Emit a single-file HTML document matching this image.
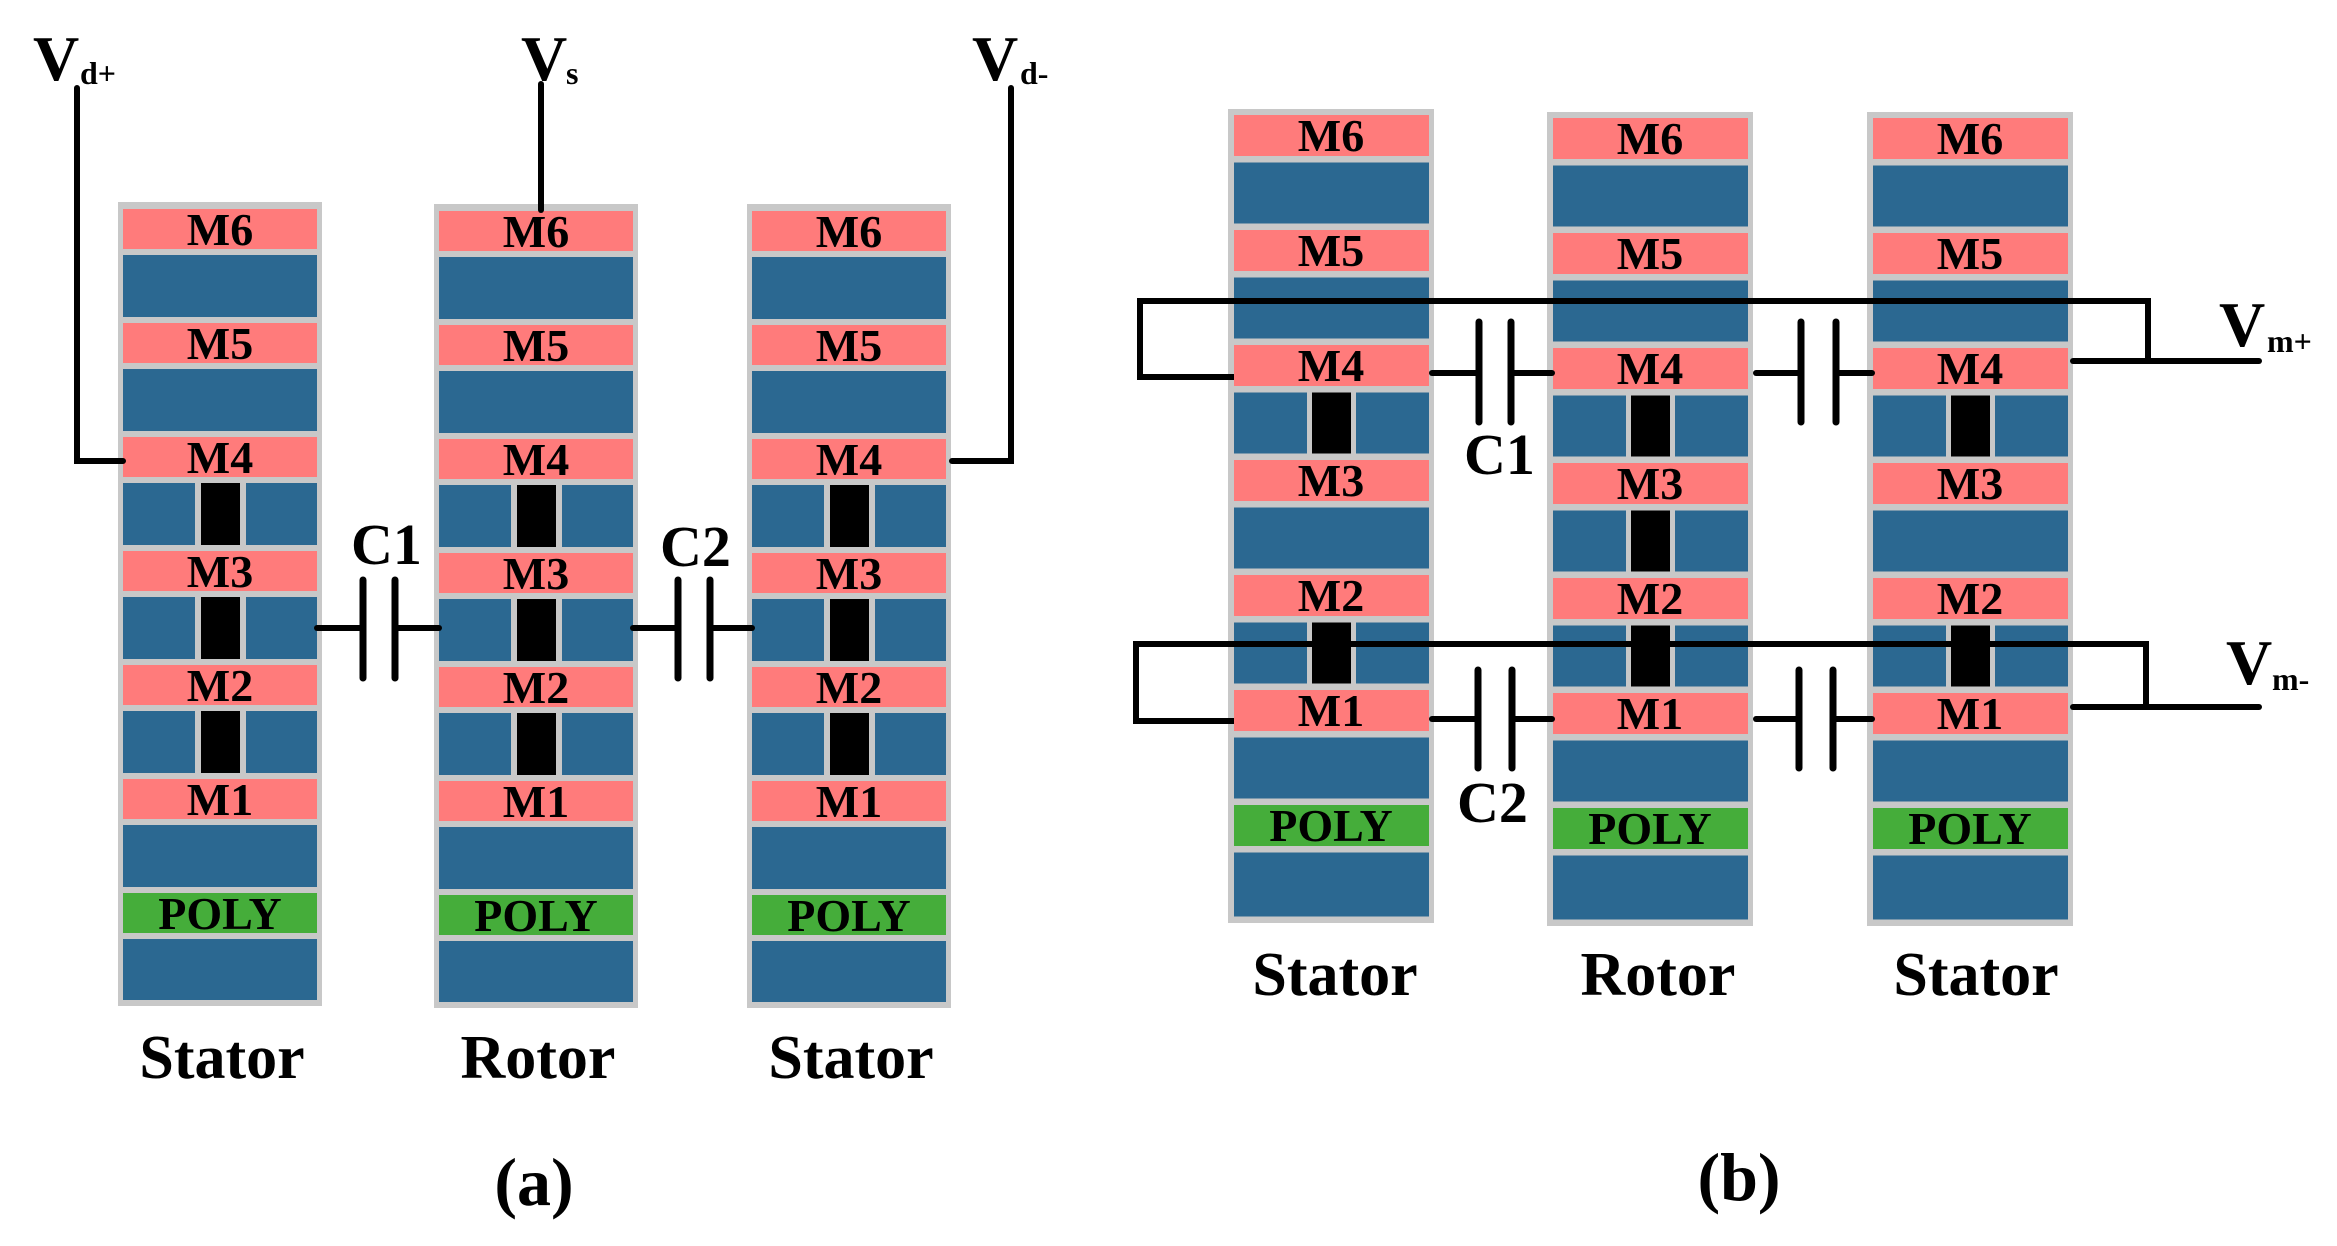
<!DOCTYPE html>
<html><head><meta charset="utf-8"><style>
html,body{margin:0;padding:0;background:#fff}
svg{display:block}
text{font-family:"Liberation Serif",serif;font-weight:bold;fill:#000}
.m{font-size:46px;text-anchor:middle}
.lb{font-size:62px;text-anchor:middle}
.w{stroke:#000;stroke-width:6;fill:none;stroke-linecap:round}
.p{stroke:#000;stroke-width:7;stroke-linecap:round}
</style></head><body>
<svg width="2337" height="1246" viewBox="0 0 2337 1246" xmlns="http://www.w3.org/2000/svg">
<defs>
<g id="viaA"><rect x="77" y="0" width="51" height="62" fill="#c8c8c8"/><rect x="83" y="0" width="39" height="62" fill="#000"/></g>
<g id="colA">
<rect x="0" y="0" width="204" height="804" fill="#c8c8c8"/>
<rect x="5" y="7" width="194" height="40" fill="#ff7b7b"/>
<rect x="5" y="53" width="194" height="62" fill="#2b6891"/>
<rect x="5" y="121" width="194" height="40" fill="#ff7b7b"/>
<rect x="5" y="167" width="194" height="62" fill="#2b6891"/>
<rect x="5" y="235" width="194" height="40" fill="#ff7b7b"/>
<rect x="5" y="281" width="194" height="62" fill="#2b6891"/>
<rect x="5" y="349" width="194" height="40" fill="#ff7b7b"/>
<rect x="5" y="395" width="194" height="62" fill="#2b6891"/>
<rect x="5" y="463" width="194" height="40" fill="#ff7b7b"/>
<rect x="5" y="509" width="194" height="62" fill="#2b6891"/>
<rect x="5" y="577" width="194" height="40" fill="#ff7b7b"/>
<rect x="5" y="623" width="194" height="62" fill="#2b6891"/>
<rect x="5" y="691" width="194" height="40" fill="#45ad3a"/>
<rect x="5" y="737" width="194" height="61" fill="#2b6891"/>
<use href="#viaA" y="281"/>
<use href="#viaA" y="395"/>
<use href="#viaA" y="509"/>
</g>
<g id="colB">
<rect x="0" y="0" width="206" height="814" fill="#c8c8c8"/>
<rect x="6" y="6" width="195" height="41" fill="#ff7b7b"/>
<rect x="6" y="53.5" width="195" height="61" fill="#2b6891"/>
<rect x="6" y="121" width="195" height="41" fill="#ff7b7b"/>
<rect x="6" y="168.5" width="195" height="61" fill="#2b6891"/>
<rect x="6" y="236" width="195" height="41" fill="#ff7b7b"/>
<rect x="6" y="283.5" width="195" height="61" fill="#2b6891"/>
<rect x="6" y="351" width="195" height="41" fill="#ff7b7b"/>
<rect x="6" y="398.5" width="195" height="61" fill="#2b6891"/>
<rect x="6" y="466" width="195" height="41" fill="#ff7b7b"/>
<rect x="6" y="513.5" width="195" height="61" fill="#2b6891"/>
<rect x="6" y="581" width="195" height="41" fill="#ff7b7b"/>
<rect x="6" y="628.5" width="195" height="61" fill="#2b6891"/>
<rect x="6" y="696" width="195" height="41" fill="#45ad3a"/>
<rect x="6" y="743.5" width="195" height="64" fill="#2b6891"/>
</g>
<g id="viaB"><rect x="79" y="0" width="49" height="61" fill="#c8c8c8"/><rect x="84" y="0" width="39" height="61" fill="#000"/></g>
</defs>

<!-- Panel (a) -->
<use href="#colA" x="118" y="202"/>
<use href="#colA" x="434" y="204"/>
<use href="#colA" x="747" y="204"/>
<g class="m">
<text x="220" y="245">M6</text><text x="220" y="359">M5</text><text x="220" y="473">M4</text><text x="220" y="587">M3</text><text x="220" y="701">M2</text><text x="220" y="815">M1</text><text x="220" y="929">POLY</text>
<text x="536" y="247">M6</text><text x="536" y="361">M5</text><text x="536" y="475">M4</text><text x="536" y="589">M3</text><text x="536" y="703">M2</text><text x="536" y="817">M1</text><text x="536" y="931">POLY</text>
<text x="849" y="247">M6</text><text x="849" y="361">M5</text><text x="849" y="475">M4</text><text x="849" y="589">M3</text><text x="849" y="703">M2</text><text x="849" y="817">M1</text><text x="849" y="931">POLY</text>
</g>
<polyline class="w" points="77,88 77,461 123,461"/>
<line class="w" x1="541" y1="84" x2="541" y2="210"/>
<polyline class="w" points="1011,88 1011,461 952,461"/>
<line class="w" x1="317" y1="628" x2="363" y2="628"/><line class="w" x1="395" y1="628" x2="439" y2="628"/>
<line class="p" x1="363" y1="580" x2="363" y2="678"/><line class="p" x1="395" y1="580" x2="395" y2="678"/>
<line class="w" x1="633" y1="628" x2="678" y2="628"/><line class="w" x1="710" y1="628" x2="752" y2="628"/>
<line class="p" x1="678" y1="580" x2="678" y2="678"/><line class="p" x1="710" y1="580" x2="710" y2="678"/>
<text x="351" y="564" style="font-size:58px">C1</text>
<text x="660" y="566" style="font-size:58px">C2</text>
<text x="33" y="80" style="font-size:64px">V</text><text x="80" y="84" style="font-size:32px">d+</text>
<text x="521" y="80" style="font-size:64px">V</text><text x="566" y="84" style="font-size:32px">s</text>
<text x="972" y="80" style="font-size:64px">V</text><text x="1020" y="84" style="font-size:32px">d-</text>
<text class="lb" x="222" y="1078">Stator</text>
<text class="lb" x="538" y="1078">Rotor</text>
<text class="lb" x="851" y="1078">Stator</text>
<text x="534" y="1205" style="font-size:68px;text-anchor:middle">(a)</text>

<!-- Panel (b) -->
<use href="#colB" x="1228" y="109"/>
<use href="#colB" x="1547" y="112"/>
<use href="#colB" x="1867" y="112"/>
<use href="#viaB" x="1228" y="392.5"/>
<use href="#viaB" x="1228" y="622.5"/>
<use href="#viaB" x="1547" y="395.5"/>
<use href="#viaB" x="1547" y="510.5"/>
<use href="#viaB" x="1547" y="625.5"/>
<use href="#viaB" x="1867" y="395.5"/>
<use href="#viaB" x="1867" y="625.5"/>
<g class="m">
<text x="1331" y="151">M6</text><text x="1331" y="266">M5</text><text x="1331" y="381">M4</text><text x="1331" y="496">M3</text><text x="1331" y="611">M2</text><text x="1331" y="726">M1</text><text x="1331" y="841">POLY</text>
<text x="1650" y="154">M6</text><text x="1650" y="269">M5</text><text x="1650" y="384">M4</text><text x="1650" y="499">M3</text><text x="1650" y="614">M2</text><text x="1650" y="729">M1</text><text x="1650" y="844">POLY</text>
<text x="1970" y="154">M6</text><text x="1970" y="269">M5</text><text x="1970" y="384">M4</text><text x="1970" y="499">M3</text><text x="1970" y="614">M2</text><text x="1970" y="729">M1</text><text x="1970" y="844">POLY</text>
</g>
<polyline class="w" points="1234,377 1140,377 1140,301 2148,301 2148,361" style="stroke-linecap:butt"/>
<line class="w" x1="2073" y1="361" x2="2259" y2="361"/>
<line class="w" x1="1432" y1="373" x2="1479" y2="373"/><line class="w" x1="1511" y1="373" x2="1552" y2="373"/>
<line class="p" x1="1479" y1="322" x2="1479" y2="422"/><line class="p" x1="1511" y1="322" x2="1511" y2="422"/>
<line class="w" x1="1756" y1="373" x2="1801" y2="373"/><line class="w" x1="1836" y1="373" x2="1872" y2="373"/>
<line class="p" x1="1801" y1="322" x2="1801" y2="422"/><line class="p" x1="1836" y1="322" x2="1836" y2="422"/>
<polyline class="w" points="1234,721 1136,721 1136,644 2146,644 2146,707" style="stroke-linecap:butt"/>
<line class="w" x1="2073" y1="707" x2="2259" y2="707"/>
<line class="w" x1="1432" y1="719" x2="1478" y2="719"/><line class="w" x1="1512" y1="719" x2="1552" y2="719"/>
<line class="p" x1="1478" y1="670" x2="1478" y2="768"/><line class="p" x1="1512" y1="670" x2="1512" y2="768"/>
<line class="w" x1="1756" y1="719" x2="1799" y2="719"/><line class="w" x1="1833" y1="719" x2="1872" y2="719"/>
<line class="p" x1="1799" y1="670" x2="1799" y2="768"/><line class="p" x1="1833" y1="670" x2="1833" y2="768"/>
<text x="1464" y="474" style="font-size:58px">C1</text>
<text x="1457" y="822" style="font-size:58px">C2</text>
<text x="2219" y="346" style="font-size:64px">V</text><text x="2267" y="352" style="font-size:32px">m+</text>
<text x="2226" y="684" style="font-size:64px">V</text><text x="2272" y="690" style="font-size:32px">m-</text>
<text class="lb" x="1335" y="995">Stator</text>
<text class="lb" x="1658" y="995">Rotor</text>
<text class="lb" x="1976" y="995">Stator</text>
<text x="1739" y="1200" style="font-size:68px;text-anchor:middle">(b)</text>
</svg>
</body></html>
